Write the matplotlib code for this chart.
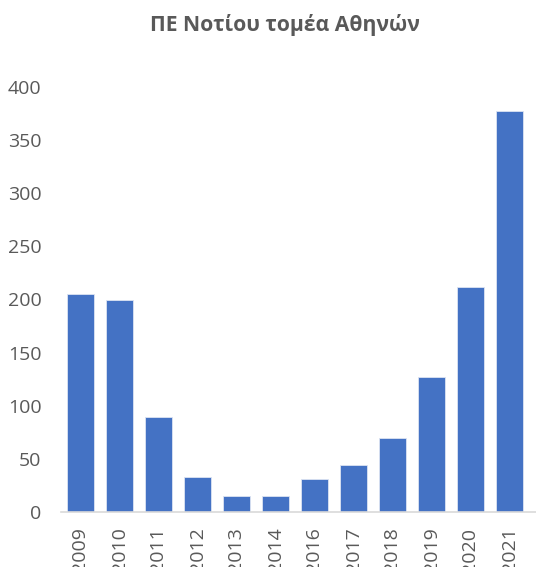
import matplotlib
matplotlib.use("Agg")
import matplotlib.pyplot as plt

plt.rcParams['font.family'] = ['Open Sans', 'DejaVu Sans']

years = ['2009', '2010', '2011', '2012', '2013', '2014', '2016', '2017', '2018', '2019', '2020', '2021']
values = [205, 200, 90, 33, 15, 15, 31, 44, 70, 127, 212, 377]
yticks = [0, 50, 100, 150, 200, 250, 300, 350, 400]
title = 'ΠΕ Νοτίου τομέα Αθηνών'

W, H = 536, 567
fig = plt.figure(figsize=(W / 100, H / 100), dpi=100)
left_px, right_px = 61, 536
bottom_px, top_px = 512.3, 86.7
ax = fig.add_axes([left_px / W, 1 - bottom_px / H, (right_px - left_px) / W, (bottom_px - top_px) / H])

x = list(range(len(years)))
ax.bar(x, values, width=0.71, color='#4472C4', edgecolor='#DCE4F2', linewidth=0.6)

cat_px = 39.0
ax.set_xlim(-0.5, -0.5 + (right_px - left_px) / cat_px)
ax.set_ylim(0, 400)
ax.set_yticks(yticks)
ax.set_xticks(x)
ax.set_xticklabels(years, rotation=90, va='top', ha='center')

for s in ['top', 'right', 'left']:
    ax.spines[s].set_visible(False)
ax.spines['bottom'].set_color('#D9D9D9')
ax.spines['bottom'].set_linewidth(1.2)
ax.tick_params(axis='both', length=0, colors='#595959', labelsize=14)
ax.tick_params(axis='y', pad=14)
ax.tick_params(axis='x', pad=11)

fig.text(0.532, 1 - 25 / H, title, ha='center', va='center', fontsize=15.2, fontweight='bold', color='#595959')

fig.savefig('out.png', dpi=100)
